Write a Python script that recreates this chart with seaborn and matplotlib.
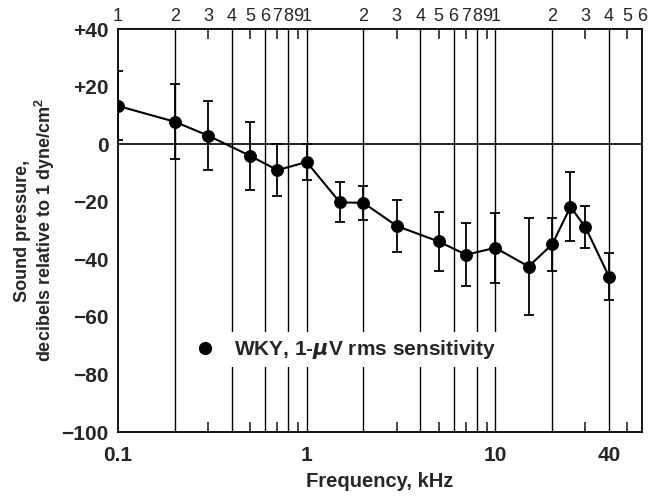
import numpy as np
import pandas as pd
import matplotlib
matplotlib.use('Agg')
import matplotlib.pyplot as plt
import seaborn as sns
from matplotlib.lines import Line2D
from matplotlib.ticker import FixedLocator, NullFormatter, NullLocator

# Data (frequency kHz, dB re 1 dyne/cm^2, +/- error)
freq_khz = [0.1, 0.2, 0.3, 0.5, 0.7, 1.0, 1.5, 2.0, 3.0, 5.0, 7.0, 10.0, 15.0, 20.0, 25.0, 30.0, 40.0]
sound_db = [13.3, 7.8, 3.0, -4.0, -9.0, -6.2, -20.2, -20.4, -28.4, -33.8, -38.4, -36.0, -42.5, -34.8, -21.8, -28.8, -46.0]
err_db = [12.0, 13.0, 12.0, 11.8, 9.0, 6.2, 7.0, 6.0, 9.0, 10.2, 11.0, 12.2, 17.0, 9.3, 12.0, 7.2, 8.2]

y_ticks = [40, 20, 0, -20, -40, -60, -80, -100]
y_tick_labels = ['+40', '+20', '0', '\u221220', '\u221240', '\u221260', '\u221280', '\u2212100']
x_ticks = [0.1, 1, 10, 40]
x_tick_labels = ['0.1', '1', '10', '40']
full_lines = [0.2, 0.4, 0.6, 0.8, 1, 2, 4, 6, 8, 10, 20, 40]
short_ticks = [0.3, 0.5, 0.7, 0.9, 3, 5, 7, 9, 30, 50]
top_pos = [0.1, 0.2, 0.3, 0.4, 0.5, 0.6, 0.7, 0.8, 0.9,
           1, 2, 3, 4, 5, 6, 7, 8, 9,
           10, 20, 30, 40, 50, 60]
top_labels = ['1', '2', '3', '4', '5', '6', '7', '8', '9',
              '1', '2', '3', '4', '5', '6', '7', '8', '9',
              '1', '2', '3', '4', '5', '6']

df = pd.DataFrame({'freq': freq_khz, 'db': sound_db, 'err': err_db})

sns.set_style('white')
plt.rcParams['font.family'] = ['Liberation Sans', 'DejaVu Sans']
plt.rcParams['font.weight'] = 'bold'
plt.rcParams['mathtext.default'] = 'it'

fig = plt.figure(figsize=(6.5, 5.01), dpi=100)
ax = fig.add_axes([0.1815, 0.1377, 0.8065, 0.8043])

for x in full_lines:
    ax.axvline(x, color='black', lw=1.0, zorder=1)
ax.axhline(0, color='black', lw=1.2, zorder=1)

ax.errorbar(df['freq'], df['db'], yerr=df['err'], fmt='none', ecolor='black',
            elinewidth=1.3, capsize=3.3, capthick=1.3, zorder=2)
sns.lineplot(data=df, x='freq', y='db', ax=ax, color='black', lw=1.5,
             marker='o', markersize=8.5, markeredgecolor='black', zorder=3)

ax.set_xscale('log')
ax.set_xlim(0.1, 60)
ax.set_ylim(-100, 40)

ax.xaxis.set_major_locator(FixedLocator(x_ticks))
ax.set_xticklabels(x_tick_labels)
ax.xaxis.set_minor_locator(FixedLocator(short_ticks))
ax.xaxis.set_minor_formatter(NullFormatter())
ax.tick_params(axis='x', which='major', length=0, pad=10, labelsize=15)
ax.tick_params(axis='x', which='minor', direction='in', length=7, width=1.2,
               bottom=True, top=True)
ax.set_yticks(y_ticks)
ax.set_yticklabels(y_tick_labels)
ax.yaxis.set_minor_locator(NullLocator())
ax.tick_params(axis='y', which='major', direction='in', length=7, width=1.2,
               labelsize=15, pad=7)

for s in ax.spines.values():
    s.set_color('black')
    s.set_linewidth(1.3)

top = ax.secondary_xaxis('top')
top.xaxis.set_major_locator(FixedLocator(top_pos))
top.set_xticklabels(top_labels, fontweight='normal')
top.xaxis.set_minor_locator(NullLocator())
top.tick_params(axis='x', length=0, pad=3, labelsize=13)
top.spines['top'].set_visible(False)

ax.set_xlabel('Frequency, kHz', fontsize=14.5, fontweight='bold', labelpad=5)
ax.set_ylabel('Sound pressure,\ndecibels relative to 1 dyne/cm$^\\mathregular{2}$',
              fontsize=13, fontweight='bold', labelpad=3, linespacing=1.1)

handle = Line2D([], [], color='black', marker='o', markersize=8.5, linestyle='none')
leg = ax.legend([handle], ['WKY, 1-$\\mu$V rms sensitivity'], loc='center left',
                bbox_to_anchor=(0.11, 0.205), frameon=True,
                prop={'size': 15, 'weight': 'bold'},
                handletextpad=0.8, borderpad=0.3, handlelength=1.2)
leg.get_frame().set_facecolor('white')
leg.get_frame().set_edgecolor('none')
leg.get_frame().set_alpha(1)

fig.savefig('out.png', dpi=100)
